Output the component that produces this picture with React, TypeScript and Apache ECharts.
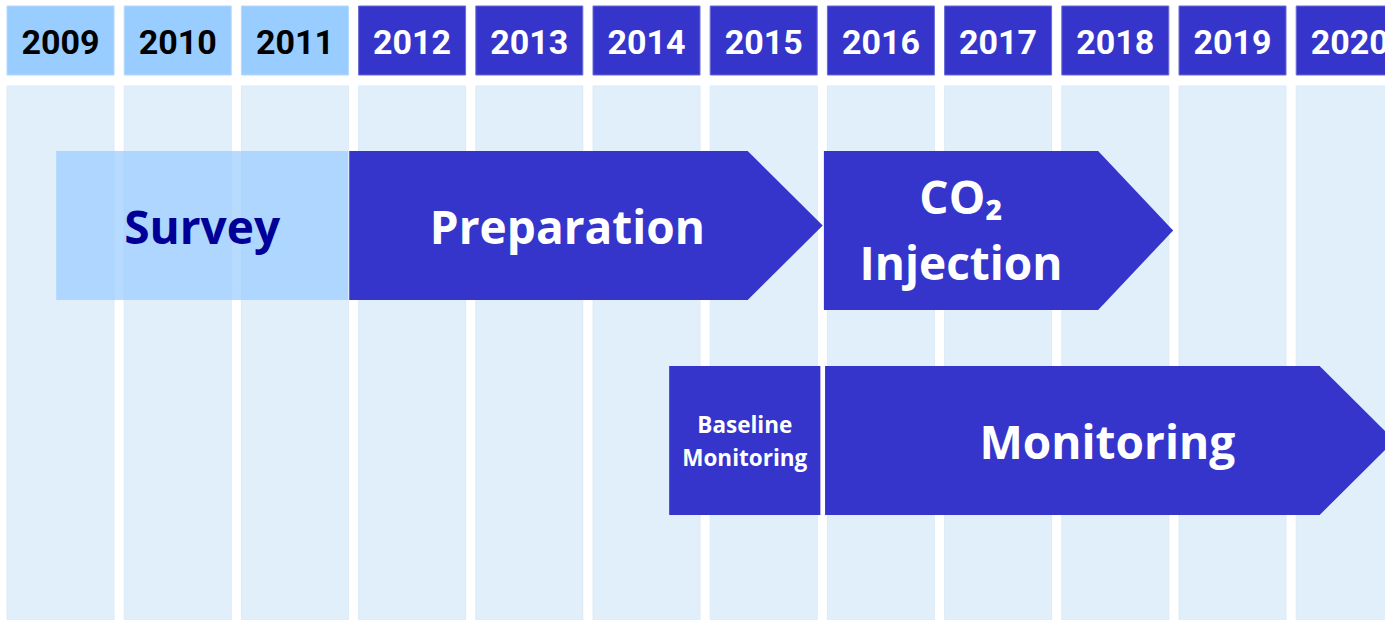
import React, { useEffect, useRef } from "react";
import * as echarts from "echarts";

// ---- data ----
const YEARS = [2009, 2010, 2011, 2012, 2013, 2014, 2015, 2016, 2017, 2018, 2019, 2020];
const SURVEY_YEARS = [2009, 2010, 2011];

const PHASE_NAMES = ["Survey", "Preparation", "CO₂\nInjection", "Baseline\nMonitoring", "Monitoring"];
const PHASE_START = [2009.42, 2011.92, 2015.97, 2014.65, 2015.98];
const PHASE_END = [2011.91, 2015.96, 2018.95, 2015.94, 2020.84];
const PHASE_LANE = [0, 0, 0, 1, 1];
const PHASE_ARROW = [0, 1, 1, 0, 1];

// ---- style ----
const W = 1385;
const H = 620;
const PX_PER_YEAR = 117.2;
const FIRST_COL_X = 7;
const CELL_FRAC = 107 / 117.2;
const X_MIN = YEARS[0] - FIRST_COL_X / PX_PER_YEAR;
const X_MAX = X_MIN + W / PX_PER_YEAR;

const HEADER_TOP = 6;
const HEADER_BOTTOM = 75;
const COL_TOP = 86;
const COL_BOTTOM = 620;

const LANE_TOP = [151, 366];
const LANE_BOTTOM = [300, 515];
const PHASE_BOTTOM_EXTRA = [0, 0, 10, 0, 0];
const HEAD = 75;
const LABEL_DX = [0, 19, 0, 0, 35];
const LABEL_DY = [0, 0, -2, 0, 0];
const LABEL_SIZE = [46, 46, 46, 22.5, 46];
const LABEL_LH = [54, 54, 66, 33, 54];

const DARK = "#3535cc";
const LIGHT_HDR = "#99ccff";
const COL_BG = "#e1effb";
const SURVEY_FILL = "#99ccff";
const SURVEY_TEXT = "#000099";
const TEXT_FONT = "'Open Sans', 'Noto Sans', sans-serif";
const YEAR_FONT = "Roboto, 'Noto Sans', sans-serif";

export default function App() {
  const ref = useRef<HTMLDivElement>(null);

  useEffect(() => {
    document.body.style.margin = "0";
    const chart = echarts.init(ref.current!, null, { renderer: "svg" });

    const option: any = {
      animation: false,
      backgroundColor: "#ffffff",
      grid: { left: 0, right: 0, top: 0, bottom: 0 },
      xAxis: { type: "value", min: X_MIN, max: X_MAX, show: false },
      yAxis: { type: "value", min: 0, max: H, inverse: true, show: false },
      series: [
        {
          type: "custom",
          name: "years",
          data: YEARS.map((y) => [y]),
          renderItem: (params: any, api: any) => {
            const y = api.value(0);
            const x0 = api.coord([y, 0])[0];
            const x1 = api.coord([y + CELL_FRAC, 0])[0];
            const light = SURVEY_YEARS.indexOf(y) >= 0;
            return {
              type: "group",
              children: [
                {
                  type: "rect",
                  shape: { x: x0, y: COL_TOP, width: x1 - x0, height: COL_BOTTOM - COL_TOP },
                  style: { fill: COL_BG, stroke: "#dceaf7", lineWidth: 1 },
                },
                {
                  type: "rect",
                  shape: { x: x0, y: HEADER_TOP, width: x1 - x0, height: HEADER_BOTTOM - HEADER_TOP },
                  style: { fill: light ? LIGHT_HDR : DARK, stroke: light ? "#b3d9ff" : "#6a6ad8", lineWidth: 1 },
                },
                {
                  type: "text",
                  style: {
                    text: String(y),
                    x: (x0 + x1) / 2,
                    y: (HEADER_TOP + HEADER_BOTTOM) / 2 + 1,
                    align: "center",
                    verticalAlign: "middle",
                    fill: light ? "#000000" : "#ffffff",
                    font: `bold 34px ${YEAR_FONT}`,
                  },
                },
              ],
            };
          },
        },
        {
          type: "custom",
          name: "phases",
          data: PHASE_NAMES.map((n, i) => [PHASE_START[i], PHASE_END[i], PHASE_LANE[i], PHASE_ARROW[i], i]),
          renderItem: (params: any, api: any) => {
            const s = api.value(0);
            const e = api.value(1);
            const lane = api.value(2);
            const arrow = api.value(3);
            const i = api.value(4);
            const x0 = api.coord([s, 0])[0];
            const xe = api.coord([e, 0])[0];
            const top = LANE_TOP[lane];
            const bottom = LANE_BOTTOM[lane] + PHASE_BOTTOM_EXTRA[i];
            const mid = (top + bottom) / 2;
            const rectEnd = arrow ? xe - HEAD : xe;
            const points = arrow
              ? [[x0, top], [rectEnd, top], [xe, mid], [rectEnd, bottom], [x0, bottom]]
              : [[x0, top], [xe, top], [xe, bottom], [x0, bottom]];
            const isSurvey = i === 0;
            return {
              type: "group",
              children: [
                {
                  type: "polygon",
                  shape: { points },
                  style: {
                    fill: isSurvey ? SURVEY_FILL : DARK,
                    opacity: isSurvey ? 0.7 : 1,
                  },
                },
                {
                  type: "text",
                  style: {
                    text: PHASE_NAMES[i],
                    x: (x0 + rectEnd) / 2 + LABEL_DX[i],
                    y: mid + LABEL_DY[i],
                    align: "center",
                    verticalAlign: "middle",
                    fill: isSurvey ? SURVEY_TEXT : "#ffffff",
                    font: `bold ${LABEL_SIZE[i]}px ${TEXT_FONT}`,
                    lineHeight: LABEL_LH[i],
                  },
                },
              ],
            };
          },
        },
      ],
    };

    chart.setOption(option);
    return () => chart.dispose();
  }, []);

  return <div ref={ref} style={{ width: W, height: H }} />;
}
